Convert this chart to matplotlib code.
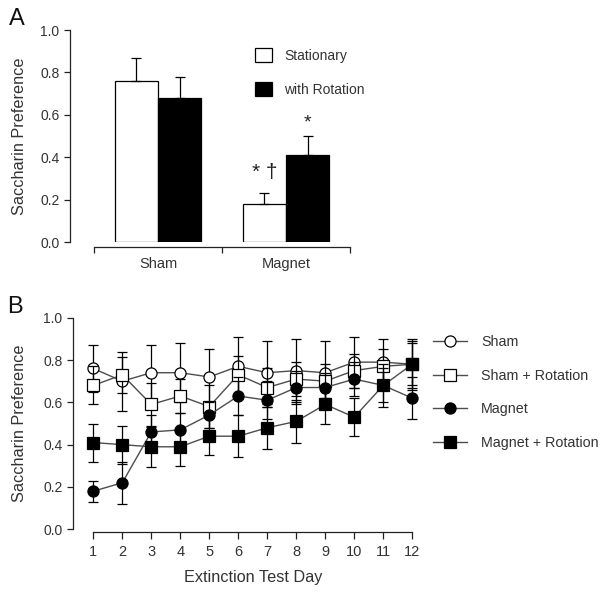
"""
Saccharin preference: bar chart (A) and extinction curves (B)
"""
import numpy as np
import matplotlib
matplotlib.use('Agg')
import matplotlib.pyplot as plt
from matplotlib.patches import Patch
from matplotlib.lines import Line2D

plt.rcParams['font.family'] = ['Liberation Sans', 'DejaVu Sans']
TXT = '#333333'
LINE = '#4d4d4d'

# --- panel A data ---
groups = ['Sham', 'Magnet']
stationary = [0.76, 0.18]
stationary_sem = [0.11, 0.05]
rotation = [0.68, 0.41]
rotation_sem = [0.10, 0.09]

# --- panel B data ---
days = list(range(1, 13))
sham = [0.76, 0.70, 0.74, 0.74, 0.72, 0.77, 0.74, 0.75, 0.74, 0.79, 0.79, 0.78]
sham_sem = [0.11, 0.14, 0.13, 0.14, 0.13, 0.14, 0.15, 0.15, 0.15, 0.12, 0.11, 0.12]
sham_rot = [0.68, 0.73, 0.59, 0.63, 0.58, 0.73, 0.67, 0.71, 0.70, 0.75, 0.77, 0.78]
sham_rot_sem = [0.09, 0.085, 0.10, 0.08, 0.10, 0.09, 0.09, 0.08, 0.08, 0.08, 0.08, 0.11]
magnet = [0.18, 0.22, 0.46, 0.47, 0.54, 0.63, 0.61, 0.67, 0.67, 0.71, 0.68, 0.62]
magnet_sem = [0.05, 0.10, 0.08, 0.08, 0.06, 0.09, 0.09, 0.08, 0.07, 0.08, 0.08, 0.10]
magnet_rot = [0.41, 0.40, 0.39, 0.39, 0.44, 0.44, 0.48, 0.51, 0.59, 0.53, 0.68, 0.78]
magnet_rot_sem = [0.09, 0.09, 0.095, 0.09, 0.09, 0.10, 0.10, 0.10, 0.09, 0.09, 0.10, 0.10]

W, H = 602, 592
fig = plt.figure(figsize=(W / 100, H / 100), dpi=100)


def px_axes(left, top, right, bottom):
    return fig.add_axes([left / W, 1 - bottom / H, (right - left) / W, (bottom - top) / H])


def style_axes(ax):
    for s in ['top', 'right']:
        ax.spines[s].set_visible(False)
    for s in ['left', 'bottom']:
        ax.spines[s].set_linewidth(0.9)
        ax.spines[s].set_color('#222222')
    ax.spines['left'].set_bounds(0, 1)
    ax.set_ylim(0, 1)
    ax.set_yticks(np.arange(0, 1.01, 0.2))
    ax.set_yticklabels([f'{v:.1f}' for v in np.arange(0, 1.01, 0.2)])
    ax.tick_params(direction='out', length=4, width=0.9, colors='#222222',
                   labelcolor=TXT, labelsize=10)


# ---------------- A ----------------
axA = px_axes(70, 30, 350, 242)
style_axes(axA)
x = np.arange(len(groups))
bw = 0.336
axA.bar(x - bw / 2, stationary, bw, color='white', edgecolor='black', linewidth=0.9,
        yerr=[np.zeros(len(groups)), stationary_sem],
        error_kw=dict(ecolor='black', elinewidth=0.9, capsize=3.6, capthick=0.9),
        label='Stationary')
axA.bar(x + bw / 2, rotation, bw, color='black', edgecolor='black', linewidth=0.9,
        yerr=[np.zeros(len(groups)), rotation_sem],
        error_kw=dict(ecolor='black', elinewidth=0.9, capsize=3.6, capthick=0.9),
        label='with Rotation')
axA.set_xlim(-0.6875, 1.5)
axA.spines['bottom'].set_bounds(-0.5, 1.5)
axA.spines['bottom'].set_position(('outward', 3.6))
axA.set_xticks([-0.5, 0.5, 1.5])
axA.set_xticklabels([])
axA.set_xticks(x, minor=True)
axA.set_xticklabels(groups, minor=True)
axA.tick_params(axis='x', which='minor', length=0, pad=7, labelsize=10.5, labelcolor=TXT)
axA.set_ylabel('Saccharin Preference', fontsize=11.7, color=TXT)
axA.yaxis.set_label_coords(-0.154, 0.5)

axA.text(x[1] - bw / 2, stationary[1] + stationary_sem[1] + 0.10, '* \u2020',
         ha='center', va='center', fontsize=15, color='#222222')
axA.text(x[1] + bw / 2, rotation[1] + rotation_sem[1] + 0.06, '*',
         ha='center', va='center', fontsize=14, color='#222222')

axA.legend(handles=[Patch(facecolor='white', edgecolor='black', linewidth=0.9, label='Stationary'),
                    Patch(facecolor='black', edgecolor='black', linewidth=0.9, label='with Rotation')],
           loc='upper left', bbox_to_anchor=(255 / W, 1 - 48 / H), bbox_transform=fig.transFigure,
           frameon=False, fontsize=10, handlelength=1.22, handleheight=1.22,
           handletextpad=0.86, labelspacing=1.35, borderpad=0, borderaxespad=0,
           labelcolor=TXT)

fig.text(17 / W, 1 - 19 / H, 'A', fontsize=17, color='#111111', ha='center', va='center')

# ---------------- B ----------------
axB = px_axes(73, 317.7, 425, 529.3)
style_axes(axB)
axB.set_xlim(0.3, 12.44)
axB.spines['bottom'].set_bounds(1, 12)
axB.spines['bottom'].set_position(('outward', 2))
axB.set_xticks(days)
axB.tick_params(axis='x', length=5, pad=4, labelsize=10.5)

series = [
    ('Sham', sham, sham_sem, 'o', 'white', 8.0),
    ('Sham + Rotation', sham_rot, sham_rot_sem, 's', 'white', 8.8),
    ('Magnet', magnet, magnet_sem, 'o', 'black', 8.0),
    ('Magnet + Rotation', magnet_rot, magnet_rot_sem, 's', 'black', 8.8),
]
handles = []
for label, vals, sem, mk, fc, ms in series:
    axB.errorbar(days, vals, yerr=sem, fmt='none', ecolor='black', elinewidth=0.9,
                 capsize=3.6, capthick=0.9, clip_on=False)
    axB.plot(days, vals, color=LINE, linewidth=1.0, marker=mk, markersize=ms,
             markerfacecolor=fc, markeredgecolor='black', markeredgewidth=0.9, clip_on=False)
    handles.append(Line2D([], [], color=LINE, linewidth=1.0, marker=mk, markersize=ms,
                          markerfacecolor=fc, markeredgecolor='black', markeredgewidth=0.9,
                          label=label))

axB.set_ylabel('Saccharin Preference', fontsize=11.7, color=TXT)
axB.yaxis.set_label_coords(-0.131, 0.5)
axB.set_xlabel('Extinction Test Day', fontsize=11.7, color=TXT)
axB.xaxis.set_label_coords(0.5105, -0.192)

axB.legend(handles=handles, loc='upper left', bbox_to_anchor=(433 / W, 1 - 335 / H),
           bbox_transform=fig.transFigure, frameon=False, fontsize=10.3,
           handlelength=2.4, handletextpad=0.95, labelspacing=1.38,
           borderpad=0, borderaxespad=0, labelcolor=TXT)

fig.text(15 / W, 1 - 307 / H, 'B', fontsize=17, color='#111111', ha='center', va='center')

fig.savefig('out.png', dpi=100)
